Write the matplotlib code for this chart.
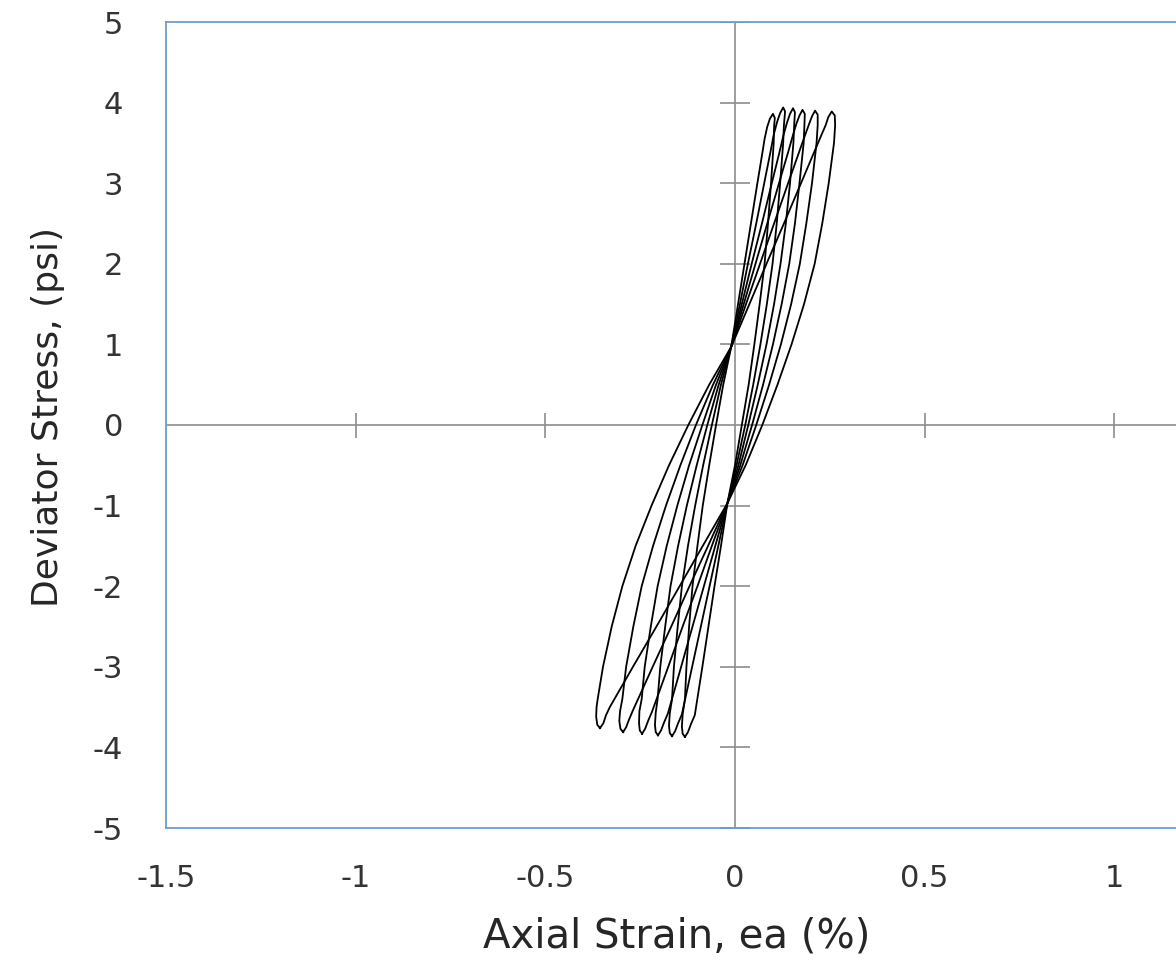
import numpy as np
import matplotlib.pyplot as plt

plt.rcParams['axes.unicode_minus'] = False

# hysteresis loops, axial strain (%) vs deviator stress (psi)
# loop 1 is the widest, loop 6 the narrowest
strain_1 = [-0.356, -0.363, -0.366, -0.365, -0.362, -0.348, -0.325, -0.297, -0.262, -0.220, -0.174,
            -0.123, -0.068, -0.010, 0.038, 0.083, 0.129, 0.174, 0.210, 0.228, 0.239, 0.246, 0.255,
            0.263, 0.264, 0.261, 0.247, 0.230, 0.210, 0.182, 0.149, 0.112, 0.072, 0.028, -0.020,
            -0.085, -0.146, -0.207, -0.269, -0.330, -0.340, -0.347, -0.356]
stress_1 = [-3.76, -3.72, -3.62, -3.50, -3.40, -3.00, -2.50, -2.00, -1.50, -1.00, -0.50,
            0.00, 0.50, 0.97, 1.50, 2.00, 2.50, 3.00, 3.40, 3.60, 3.72, 3.82, 3.89,
            3.84, 3.72, 3.50, 3.00, 2.50, 2.00, 1.50, 1.00, 0.50, 0.00, -0.50, -0.97,
            -1.50, -2.00, -2.50, -3.00, -3.50, -3.60, -3.70, -3.76]

strain_2 = [-0.295, -0.302, -0.305, -0.303, -0.297, -0.287, -0.268, -0.246, -0.216, -0.182, -0.144,
            -0.103, -0.058, -0.010, 0.029, 0.066, 0.103, 0.140, 0.170, 0.185, 0.195, 0.203, 0.211,
            0.218, 0.218, 0.215, 0.203, 0.188, 0.171, 0.148, 0.121, 0.090, 0.056, 0.020, -0.020,
            -0.071, -0.120, -0.168, -0.217, -0.269, -0.279, -0.287, -0.295]
stress_2 = [-3.81, -3.77, -3.67, -3.55, -3.40, -3.00, -2.50, -2.00, -1.50, -1.00, -0.50,
            0.00, 0.50, 0.97, 1.50, 2.00, 2.50, 3.00, 3.40, 3.60, 3.73, 3.83, 3.90,
            3.85, 3.72, 3.50, 3.00, 2.50, 2.00, 1.50, 1.00, 0.50, 0.00, -0.50, -0.97,
            -1.50, -2.00, -2.50, -3.00, -3.54, -3.65, -3.75, -3.81]

strain_3 = [-0.245, -0.251, -0.253, -0.252, -0.246, -0.238, -0.222, -0.204, -0.180, -0.152, -0.121,
            -0.086, -0.050, -0.010, 0.023, 0.054, 0.085, 0.116, 0.141, 0.153, 0.162, 0.170, 0.178,
            0.184, 0.183, 0.181, 0.170, 0.158, 0.143, 0.123, 0.100, 0.074, 0.045, 0.014, -0.020,
            -0.061, -0.099, -0.138, -0.176, -0.219, -0.229, -0.237, -0.245]
stress_3 = [-3.83, -3.79, -3.70, -3.55, -3.40, -3.00, -2.50, -2.00, -1.50, -1.00, -0.50,
            0.00, 0.50, 0.97, 1.50, 2.00, 2.50, 3.00, 3.40, 3.60, 3.74, 3.84, 3.91,
            3.86, 3.72, 3.50, 3.00, 2.50, 2.00, 1.50, 1.00, 0.50, 0.00, -0.50, -0.97,
            -1.50, -2.00, -2.50, -3.00, -3.56, -3.67, -3.77, -3.83]

strain_4 = [-0.203, -0.209, -0.211, -0.209, -0.204, -0.197, -0.184, -0.170, -0.150, -0.127, -0.101,
            -0.073, -0.043, -0.010, 0.018, 0.044, 0.071, 0.097, 0.118, 0.128, 0.137, 0.145, 0.153,
            0.158, 0.156, 0.154, 0.145, 0.134, 0.120, 0.103, 0.083, 0.060, 0.035, 0.009, -0.020,
            -0.052, -0.082, -0.112, -0.142, -0.177, -0.187, -0.195, -0.203]
stress_4 = [-3.85, -3.81, -3.72, -3.57, -3.40, -3.00, -2.50, -2.00, -1.50, -1.00, -0.50,
            0.00, 0.50, 0.97, 1.50, 2.00, 2.50, 3.00, 3.40, 3.60, 3.75, 3.86, 3.93,
            3.88, 3.72, 3.50, 3.00, 2.50, 2.00, 1.50, 1.00, 0.50, 0.00, -0.50, -0.97,
            -1.50, -2.00, -2.50, -3.00, -3.58, -3.69, -3.79, -3.85]

strain_5 = [-0.166, -0.172, -0.174, -0.172, -0.166, -0.161, -0.151, -0.140, -0.124, -0.105, -0.084,
            -0.061, -0.037, -0.010, 0.013, 0.034, 0.056, 0.077, 0.094, 0.102, 0.111, 0.119, 0.127,
            0.132, 0.129, 0.127, 0.119, 0.110, 0.099, 0.084, 0.067, 0.048, 0.027, 0.004, -0.020,
            -0.044, -0.067, -0.090, -0.113, -0.140, -0.150, -0.158, -0.166]
stress_5 = [-3.86, -3.82, -3.73, -3.58, -3.40, -3.00, -2.50, -2.00, -1.50, -1.00, -0.50,
            0.00, 0.50, 0.97, 1.50, 2.00, 2.50, 3.00, 3.40, 3.60, 3.76, 3.87, 3.94,
            3.89, 3.72, 3.50, 3.00, 2.50, 2.00, 1.50, 1.00, 0.50, 0.00, -0.50, -0.97,
            -1.50, -2.00, -2.50, -3.00, -3.59, -3.70, -3.80, -3.86]

strain_6 = [-0.132, -0.138, -0.140, -0.138, -0.132, -0.128, -0.121, -0.112, -0.099, -0.085, -0.068,
            -0.050, -0.031, -0.010, 0.008, 0.025, 0.042, 0.059, 0.073, 0.078, 0.085, 0.092, 0.100,
            0.105, 0.103, 0.102, 0.095, 0.087, 0.078, 0.065, 0.051, 0.036, 0.018, 0.000, -0.020,
            -0.037, -0.054, -0.070, -0.086, -0.106, -0.116, -0.124, -0.132]
stress_6 = [-3.87, -3.83, -3.74, -3.59, -3.40, -3.00, -2.50, -2.00, -1.50, -1.00, -0.50,
            0.00, 0.50, 0.97, 1.50, 2.00, 2.50, 3.00, 3.40, 3.55, 3.70, 3.80, 3.86,
            3.81, 3.70, 3.50, 3.00, 2.50, 2.00, 1.50, 1.00, 0.50, 0.00, -0.50, -0.97,
            -1.50, -2.00, -2.50, -3.00, -3.60, -3.71, -3.81, -3.87]

# x = 1.5 sits past the right edge of the picture, so its label is not shown
x_ticks = [-1.5, -1, -0.5, 0, 0.5, 1]
x_tick_labels = ['-1.5', '-1', '-0.5', '0', '0.5', '1']
y_ticks = [-5, -4, -3, -2, -1, 0, 1, 2, 3, 4, 5]

gray = '#8c8c8c'
border = '#6d9bd3'

fig = plt.figure(figsize=(11.76, 9.61), dpi=100)
# plot area runs past the right edge of the picture (x = 1.5 is cut off)
ax = fig.add_axes([166 / 1176, 133 / 961, 1138 / 1176, 806 / 961])

ax.axhline(0, color=gray, lw=1.2, zorder=1)
ax.axvline(0, color=gray, lw=1.2, zorder=1)
# cross tick marks on the zero lines
ax.plot([t for t in x_ticks if t not in (0, -1.5)], np.zeros(len(x_ticks) - 2), ls='none',
        marker='|', ms=18, mew=1.2, color=gray, zorder=1)
ax.plot(np.zeros(len(y_ticks) - 1), [t for t in y_ticks if t != 0], ls='none',
        marker='_', ms=22, mew=1.2, color=gray, zorder=1)

loops = [(strain_1, stress_1), (strain_2, stress_2), (strain_3, stress_3),
         (strain_4, stress_4), (strain_5, stress_5), (strain_6, stress_6)]
for sx, sy in loops:
    ax.plot(sx, sy, color='black', lw=1.3, zorder=3)

ax.set_xlim(-1.5, 1.5)
ax.set_ylim(-5, 5)
ax.set_xticks(x_ticks)
ax.set_xticklabels(x_tick_labels)
ax.set_yticks(y_ticks)
ax.tick_params(axis='both', length=0, labelsize=22, colors='#333333')
ax.tick_params(axis='x', pad=26)
ax.tick_params(axis='y', pad=31)

for s in ax.spines.values():
    s.set_color(border)
    s.set_linewidth(1.3)

ax.set_xlabel('Axial Strain, ea (%)', fontsize=29, color='#262626')
ax.set_ylabel('Deviator Stress, (psi)', fontsize=26, color='#262626')
ax.xaxis.set_label_coords((677 - 166) / 1138, -0.110)
ax.yaxis.set_label_coords(-0.089, 0.51)

fig.savefig('out.png', dpi=100)
